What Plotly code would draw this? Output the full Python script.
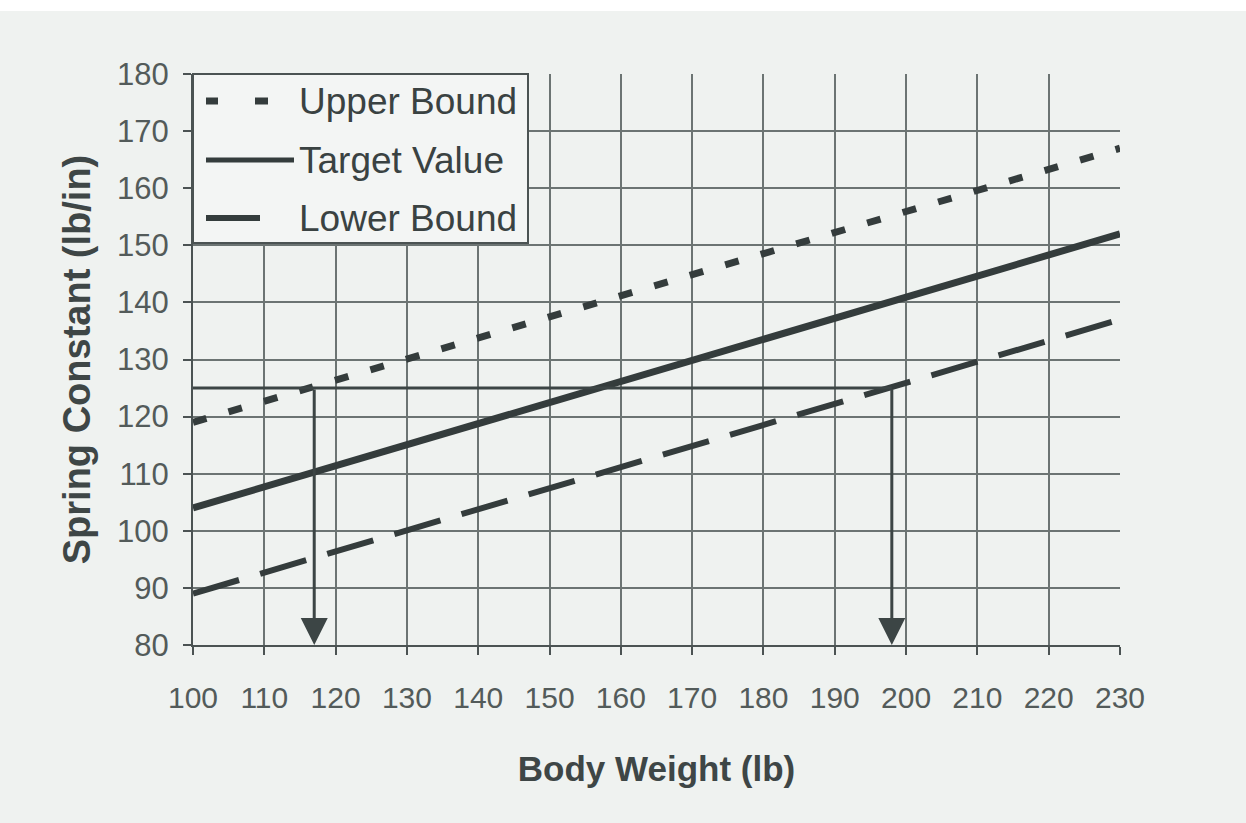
import plotly.graph_objects as go

# Body weight range (lb) and spring constants (lb/in) at the ends of each straight line
weights = [100, 230]
target_value = [104, 152]
upper_bound = [119, 167]
lower_bound = [89, 137]

# Worked example: read across at a chosen spring constant
read_level = 125
weight_at_upper = 117
weight_at_lower = 198

x_ticks = list(range(100, 231, 10))
y_ticks = list(range(80, 181, 10))

INK = "#343c3c"
GRID = "#6c7473"
BG = "#eff2f0"
FONT = "Liberation Sans, Arial, sans-serif"

fig = go.Figure()

fig.add_trace(go.Scatter(x=weights, y=upper_bound, mode="lines", name="Upper Bound",
                         line=dict(color=INK, width=7, dash="14px,23px")))
fig.add_trace(go.Scatter(x=weights, y=target_value, mode="lines", name="Target Value",
                         line=dict(color=INK, width=7)))
fig.add_trace(go.Scatter(x=weights, y=lower_bound, mode="lines", name="Lower Bound",
                         line=dict(color=INK, width=6, dash="48px,22px")))

# horizontal read-across line
fig.add_trace(go.Scatter(x=[weights[0], weight_at_lower], y=[read_level, read_level],
                         mode="lines", line=dict(color="#3c4545", width=3),
                         showlegend=False, hoverinfo="skip"))

# drop arrows down to the weight axis
for w in (weight_at_upper, weight_at_lower):
    fig.add_annotation(x=w, y=y_ticks[0], ax=w, ay=read_level,
                       xref="x", yref="y", axref="x", ayref="y",
                       showarrow=True, arrowhead=2, arrowsize=1.8, arrowwidth=3,
                       arrowcolor="#3c4545", text="")

# legend box drawn in the upper-left corner of the plot
def px_x(p):
    return (p - 193) / 927.0

def px_y(p):
    return (645 - p) / 571.0

shapes = [
    dict(type="rect", xref="paper", yref="paper", x0=px_x(0), x1=px_x(1246),
         y0=px_y(11), y1=px_y(0), fillcolor="#ffffff", line=dict(width=0), layer="below"),
    dict(type="rect", xref="paper", yref="paper", x0=px_x(193), x1=px_x(528),
         y0=px_y(243), y1=px_y(74), fillcolor="#f3f5f4",
         line=dict(color="#4b5353", width=2)),
]
rows = [
    ("Upper Bound", 101, [(206, 218), (255, 268)], 7),
    ("Target Value", 160, [(206, 294)], 5),
    ("Lower Bound", 218, [(206, 260)], 6),
]
for label, py, segs, lw in rows:
    for a, b in segs:
        shapes.append(dict(type="line", xref="paper", yref="paper",
                           x0=px_x(a), x1=px_x(b), y0=px_y(py), y1=px_y(py),
                           line=dict(color=INK, width=lw)))
    fig.add_annotation(x=px_x(297), y=px_y(py), xref="paper", yref="paper",
                       text=label, showarrow=False, xanchor="left", yanchor="middle",
                       font=dict(family=FONT, size=37, color="#3a4242"))

fig.update_layout(
    width=1246, height=823,
    margin=dict(l=193, r=126, t=74, b=178),
    paper_bgcolor=BG, plot_bgcolor=BG,
    showlegend=False,
    shapes=shapes,
    font=dict(family=FONT, color="#4e5656"),
)

fig.update_xaxes(
    range=[100, 230], tickvals=x_ticks, ticktext=[str(v) for v in x_ticks],
    showgrid=True, gridcolor=GRID, gridwidth=2,
    showline=True, linecolor="#4b5353", linewidth=2,
    ticks="outside", ticklen=8, tickwidth=2, tickcolor="#4b5353",
    ticklabelstandoff=17,
    tickfont=dict(family=FONT, size=30, color="#535b5a"),
    title=dict(text="<b>Body Weight (lb)</b>", standoff=43,
               font=dict(family=FONT, size=35, color="#3e4646")),
    zeroline=False,
)
fig.update_yaxes(
    range=[80, 180], tickvals=y_ticks, ticktext=[str(v) for v in y_ticks],
    showgrid=True, gridcolor=GRID, gridwidth=2,
    showline=True, linecolor="#4b5353", linewidth=2,
    ticks="outside", ticklen=8, tickwidth=2, tickcolor="#4b5353",
    ticklabelstandoff=8,
    tickfont=dict(family=FONT, size=31, color="#535b5a"),
    title=dict(text="<b>Spring Constant (lb/in)</b>", standoff=15,
               font=dict(family=FONT, size=38, color="#3e4646")),
    zeroline=False,
)

fig.write_html("out.html")
